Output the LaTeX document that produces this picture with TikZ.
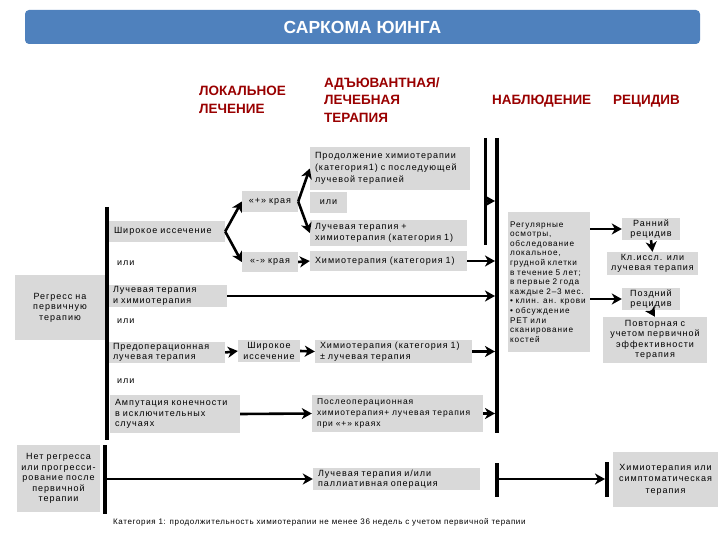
\documentclass[tikz,border=0pt]{standalone}
\usepackage{fontspec}
\setmainfont{Liberation Sans}
\newfontfamily\spaced[LetterSpace=11]{Liberation Sans}
\newfontfamily\footfont[LetterSpace=8]{Liberation Sans}
\usetikzlibrary{arrows.meta}
\definecolor{boxgray}{HTML}{D9D9D9}
\definecolor{hdrred}{HTML}{990000}
\definecolor{titleblue}{HTML}{4F81BD}
\begin{document}
\begin{tikzpicture}[x=1pt,y=-1pt,
  box/.style={fill=boxgray, inner ysep=1pt, inner xsep=5pt, font=\spaced\fontsize{9}{10.5}\selectfont},
  lbox/.style={box, align=left},
  cbox/.style={box, align=center},
  plain/.style={inner sep=0pt, font=\spaced\fontsize{9}{10.5}\selectfont},
  hdr/.style={inner sep=0pt, align=left, text=hdrred, font=\bfseries\fontsize{13.5}{17.5}\selectfont},
  bar/.style={line width=4pt},
  arr/.style={line width=2.6pt, -{Stealth[length=10pt,width=11pt,inset=3pt]}}]
\useasboundingbox (0,0) rectangle (720,540);
% title
\node[fill=titleblue, rounded corners=4pt, minimum width=675pt, minimum height=34pt,
      text=white, font=\bfseries\fontsize{17.5}{20}\selectfont] (title) at (362.5,27) {САРКОМА ЮИНГА};
% headers
\node[hdr, anchor=west] (hLok) at (199,100) {ЛОКАЛЬНОЕ\\ЛЕЧЕНИЕ};
\node[hdr, anchor=west] (hAdj) at (324,100) {АДЪЮВАНТНАЯ/\\ЛЕЧЕБНАЯ\\ТЕРАПИЯ};
\node[hdr, anchor=west] (hNab) at (492,101) {НАБЛЮДЕНИЕ};
\node[hdr, anchor=west] (hRec) at (613,101) {РЕЦИДИВ};
% boxes
\node[lbox, text width=150pt, minimum height=43pt, font=\spaced\fontsize{9}{11.8}\selectfont] (prod) at (390,168.5)
  {Продолжение химиотерапии\\(категория1) с последующей\\лучевой терапией};
\node[cbox, minimum width=37pt, minimum height=21pt, inner xsep=2pt] (ili1) at (328.5,202.5) {или};
\node[cbox, text width=46pt, minimum height=21pt] (plus) at (270,201.5) {«+» края};
\node[lbox, text width=106pt, minimum height=21pt] (shir) at (167,231.5) {Широкое иссечение};
\node[lbox, text width=147pt, minimum height=26pt] (luch) at (388.5,233) {Лучевая терапия +\\химиотерапия (категория 1)};
\node[cbox, text width=46pt, minimum height=20pt] (minus) at (270,262) {«-» края};
\node[lbox, text width=147pt, minimum height=20pt] (chemo1) at (388.5,261) {Химиотерапия (категория 1)};
\node[plain, anchor=west] (ili2) at (117,263) {или};
\node[cbox, text width=80pt, minimum height=65pt] (regress) at (60,307.5) {Регресс на\\первичную\\терапию};
\node[lbox, text width=109pt, minimum height=22pt] (luchchemo) at (167.5,296) {Лучевая терапия\\и химиотерапия};
\node[plain, anchor=west] (ili3) at (117,321) {или};
\node[lbox, text width=107pt, minimum height=21pt] (preop) at (166.5,352.5) {Предоперационная\\лучевая терапия};
\node[cbox, text width=56pt, minimum height=22pt, inner xsep=3pt] (shir2) at (269,351) {Широкое\\иссечение};
\node[lbox, text width=147pt, minimum height=23pt] (chemo2) at (393.5,351.5) {Химиотерапия (категория 1)\\± лучевая терапия};
\node[plain, anchor=west] (ili4) at (117,381) {или};
\node[lbox, text width=120pt, minimum height=38pt] (amp) at (175,414) {Ампутация конечности\\в исключительных\\случаях};
\node[lbox, text width=161pt, minimum height=37pt, font=\spaced\fontsize{8.5}{10.8}\selectfont] (postop) at (397.5,413.5)
  {Послеоперационная\\химиотерапия+ лучевая терапия\\при «+» краях};
\node[cbox, text width=81pt, minimum height=67pt, inner xsep=1pt] (noreg) at (58.5,478.5)
  {Нет регресса\\или прогресси-\\рование после\\первичной\\терапии};
\node[lbox, text width=157pt, minimum height=22pt] (pall) at (396.5,479) {Лучевая терапия и/или\\паллиативная операция};
\node[lbox, text width=78pt, minimum height=140pt, inner xsep=2pt, font=\spaced\fontsize{8.2}{9.6}\selectfont] (reg) at (549,282)
  {Регулярные\\осмотры,\\обследование\\локальное,\\грудной клетки\\в течение 5 лет;\\в первые 2 года\\каждые 2–3 мес.\\• клин. ан. крови\\• обсуждение\\PET или\\сканирование\\костей};
\node[cbox, text width=50pt, minimum height=22pt, inner xsep=4pt] (early) at (651,229) {Ранний\\рецидив};
\node[cbox, text width=89pt, minimum height=23pt, inner xsep=1pt] (klin) at (652.5,263.5) {Кл.иссл. или\\лучевая терапия};
\node[cbox, text width=50pt, minimum height=22pt, inner xsep=4pt] (late) at (651,299) {Поздний\\рецидив};
\node[cbox, text width=100pt, minimum height=46pt, inner xsep=2pt] (repeat) at (655,340)
  {Повторная с\\учетом первичной\\эффективности\\терапия};
\node[cbox, text width=101pt, minimum height=55pt, inner xsep=2pt, font=\spaced\fontsize{9}{11.5}\selectfont] (chsym) at (665.5,479.5)
  {Химиотерапия или\\симптоматическая\\терапия};
\node[inner sep=0pt, anchor=west, font=\footfont\fontsize{8}{9}\selectfont] (foot) at (113,522)
  {Категория 1: продолжительность химиотерапии не менее 36 недель с учетом первичной терапии};
% bars
\coordinate (bLt) at (107,207); \coordinate (bLb) at (107,440);
\coordinate (bNt) at (105,445); \coordinate (bNb) at (105,514);
\coordinate (bTt) at (485,138); \coordinate (bTb) at (485,245);
\coordinate (bMt) at (497,138); \coordinate (bMb) at (497,433);
\coordinate (bM2t) at (497,463); \coordinate (bM2b) at (497,497);
\coordinate (bRt) at (607,462); \coordinate (bRb) at (607,497);
\coordinate (bTm) at (485,201);
\draw[bar] (bLt) -- (bLb);
\draw[bar] (bNt) -- (bNb);
\draw[line width=3pt] (bTt) -- (bTb);
\draw[bar] (bMt) -- (bMb);
\draw[bar] (bM2t) -- (bM2b);
\draw[bar] (bRt) -- (bRb);
% connectors
\draw[arr] (shir.east) -- (plus.west);
\draw[arr] (shir.east) -- (minus.west);
\draw[arr] (plus.east) -- (prod.west);
\draw[arr] (plus.east) -- (luch.west);
\draw[arr] (minus.east) -- (chemo1.west);
\draw[arr, shorten >=2pt] (chemo1.east) -- (chemo1.east -| bMt);
\draw[arr, shorten >=2pt, shorten <=1pt] (bTm) -- (bTm -| bMt);
\draw[arr, shorten >=2pt] (luchchemo.east) -- (luchchemo.east -| bMt);
\draw[arr] (preop.east) -- (shir2.west);
\draw[arr] (shir2.east) -- (chemo2.west);
\draw[arr, shorten >=2pt] (chemo2.east) -- (chemo2.east -| bMt);
\draw[arr] (amp.east) -- (postop.west);
\draw[arr, shorten >=2pt] (postop.east) -- (postop.east -| bMt);
\draw[arr, shorten <=2pt] (bNt |- pall.west) -- (pall.west);
\draw[arr, shorten <=2pt, shorten >=2pt] (bM2t |- pall.east) -- (bRt |- pall.east);
\draw[arr] (reg.east |- early.west) -- (early.west);
\draw[arr] (reg.east |- late.west) -- (late.west);
\draw[arr] (early.south) -- (klin.north);
\draw[arr] (late.south) -- (repeat.north);
\end{tikzpicture}
\end{document}
